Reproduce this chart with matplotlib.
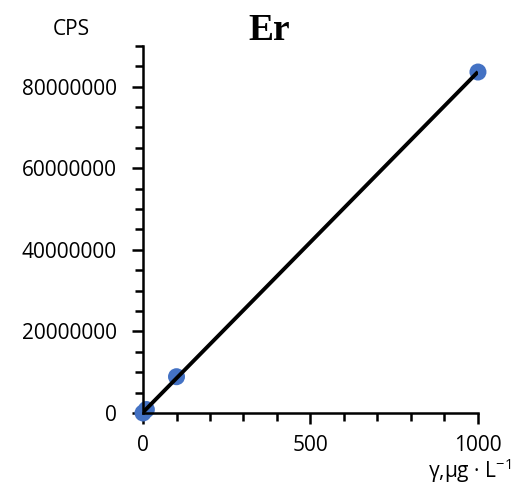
import numpy as np
import matplotlib
matplotlib.use("Agg")
import matplotlib.pyplot as plt
from matplotlib.ticker import MultipleLocator

conc = [0, 10, 100, 1000]
cps = [0, 850000, 8900000, 83600000]
title = "Er"
ylabel = "CPS"
xlabel = "γ,μg · L$^{-1}$"

plt.rcParams['font.family'] = ['Open Sans', 'DejaVu Sans']
plt.rcParams['mathtext.default'] = 'regular'

fig = plt.figure(figsize=(5.25, 4.97), dpi=100)
ax = fig.add_axes([0.2724, 0.169, 0.638, 0.7386])

slope, intercept = np.polyfit(conc, cps, 1)
xs = np.array([0, 1000])
ax.plot(xs, slope * xs + intercept, color='black', lw=2.8, zorder=3, solid_capstyle='butt')
ax.scatter(conc, cps, s=150, color='#4472C4', zorder=2, edgecolors='none', clip_on=False)

ax.set_xlim(0, 1000)
ax.set_ylim(0, 90000000)
ax.xaxis.set_major_locator(MultipleLocator(500))
ax.xaxis.set_minor_locator(MultipleLocator(100))
ax.yaxis.set_major_locator(MultipleLocator(20000000))
ax.yaxis.set_minor_locator(MultipleLocator(5000000))
ax.yaxis.set_major_formatter(matplotlib.ticker.FuncFormatter(lambda v, p: f"{int(v)}"))

for s in ['top', 'right']:
    ax.spines[s].set_visible(False)
for s in ['left', 'bottom']:
    ax.spines[s].set_linewidth(1.8)
ax.tick_params(axis='both', which='major', length=8, width=1.8, labelsize=15, direction='out')
ax.tick_params(axis='both', which='minor', length=6, width=1.8, direction='out')
ax.tick_params(axis='y', pad=11)
ax.tick_params(axis='x', pad=8)

fig.text(0.135, 0.941, ylabel, fontsize=15, ha='center', va='center')
fig.text(0.512, 0.9195, title, fontsize=27, fontweight='bold', family='Liberation Serif', ha='center', va='baseline')
fig.text(0.973, 0.038, xlabel, fontsize=15, ha='right', va='baseline')

fig.savefig('out.png', dpi=100)
